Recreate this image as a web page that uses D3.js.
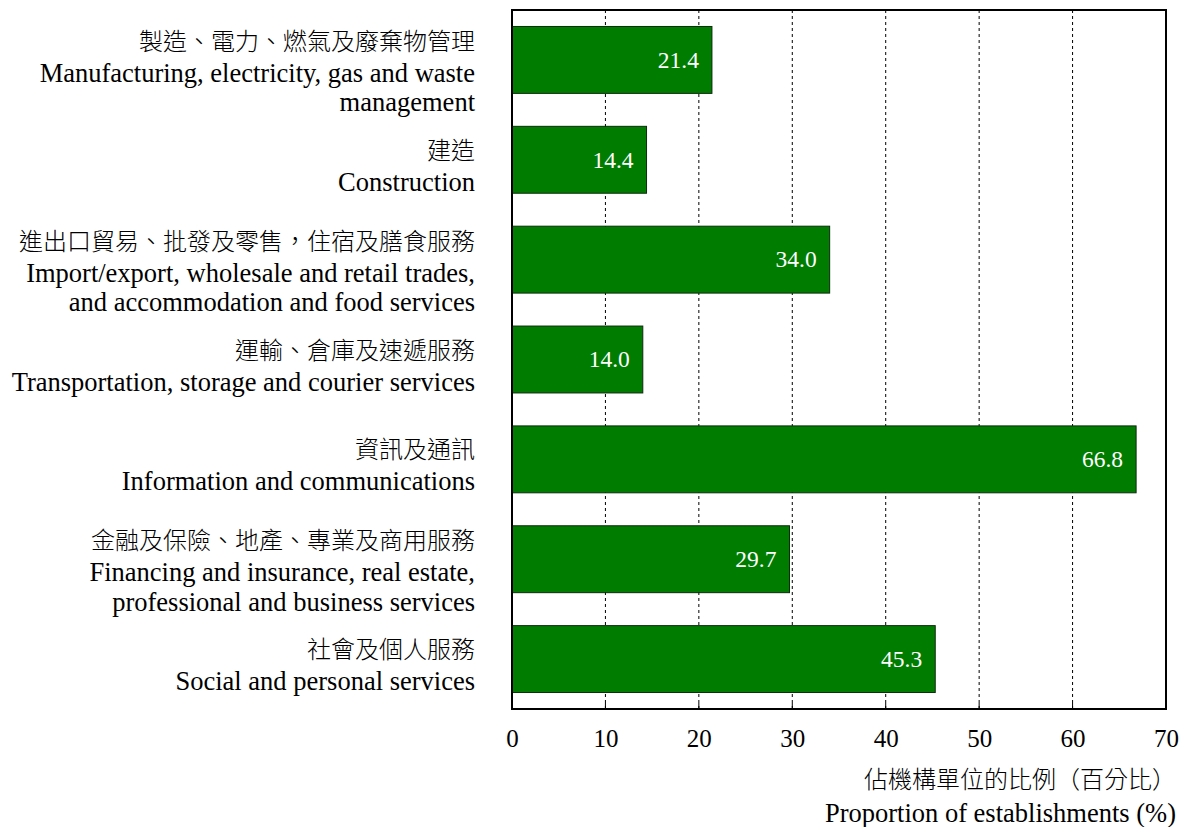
<!DOCTYPE html>
<html lang="zh-Hant">
<head>
<meta charset="utf-8">
<script src="https://d3js.org/d3.v7.min.js"></script>
<style>
  body { margin: 0; background: #fff; }
  text { font-family: "Liberation Serif", "Noto Sans CJK TC", serif; fill: #000; }
  .zh { font-family: "Noto Sans CJK TC", sans-serif; font-weight: 300; }
</style>
</head>
<body>
<div id="chart"></div>
<script>
// categories (Chinese line + English lines)
const labelsZh = [
  "製造、電力、燃氣及廢棄物管理",
  "建造",
  "進出口貿易、批發及零售，住宿及膳食服務",
  "運輸、倉庫及速遞服務",
  "資訊及通訊",
  "金融及保險、地產、專業及商用服務",
  "社會及個人服務"
];
const labelsEn = [
  ["Manufacturing, electricity, gas and waste", "management"],
  ["Construction"],
  ["Import/export, wholesale and retail trades,", "and accommodation and food services"],
  ["Transportation, storage and courier services"],
  ["Information and communications"],
  ["Financing and insurance, real estate,", "professional and business services"],
  ["Social and personal services"]
];
const values = [21.4, 14.4, 34.0, 14.0, 66.8, 29.7, 45.3];
const xTicks = [0, 10, 20, 30, 40, 50, 60, 70];
const titleZh = "佔機構單位的比例（百分比）";
const titleEn = "Proportion of establishments (%)";

const W = 1179, H = 827;
const pLeft = 512, pRight = 1166, pTop = 10, pBottom = 709;

const svg = d3.select("#chart").append("svg")
  .attr("width", W).attr("height", H);

const x = d3.scaleLinear().domain([0, 70]).range([pLeft, pRight]);
const y = d3.scaleBand().domain(d3.range(values.length))
  .range([pTop, pBottom]).paddingInner(0.33).paddingOuter(0.165);

// dashed grid
svg.append("g").selectAll("line")
  .data(xTicks.filter(d => d > 0 && d < 70))
  .join("line")
  .attr("x1", d => x(d)).attr("x2", d => x(d))
  .attr("y1", pTop).attr("y2", pBottom)
  .attr("stroke", "#000").attr("stroke-width", 1)
  .attr("stroke-dasharray", "3,3");

// bars
svg.append("g").selectAll("rect")
  .data(values)
  .join("rect")
  .attr("x", x(0))
  .attr("y", (d, i) => y(i))
  .attr("width", d => x(d) - x(0))
  .attr("height", y.bandwidth())
  .attr("fill", "#007c00")
  .attr("stroke", "#0d2a0d")
  .attr("stroke-width", 1);

// value labels
svg.append("g").selectAll("text")
  .data(values)
  .join("text")
  .attr("x", d => x(d) - 13)
  .attr("y", (d, i) => y(i) + y.bandwidth() / 2)
  .attr("dy", "0.33em")
  .attr("text-anchor", "end")
  .style("fill", "#fff")
  .style("font-size", "23.5px")
  .text(d => d.toFixed(1));

// frame
svg.append("rect")
  .attr("x", pLeft).attr("y", pTop)
  .attr("width", pRight - pLeft).attr("height", pBottom - pTop)
  .attr("fill", "none").attr("stroke", "#000").attr("stroke-width", 2);

// x axis
const xAxis = svg.append("g")
  .attr("transform", `translate(0,${pBottom})`)
  .call(d3.axisBottom(x).tickValues(xTicks).tickSize(0).tickPadding(20));
xAxis.select(".domain").remove();
xAxis.selectAll("text")
  .style("font-family", "'Liberation Serif', serif")
  .style("font-size", "25px");

// inner tick marks on bottom edge
svg.append("g").selectAll("line")
  .data(xTicks.filter(d => d > 0 && d < 70))
  .join("line")
  .attr("x1", d => x(d)).attr("x2", d => x(d))
  .attr("y1", pBottom).attr("y2", pBottom - 6)
  .attr("stroke", "#000").attr("stroke-width", 1);

// category labels
const lab = svg.append("g").selectAll("g")
  .data(values)
  .join("g")
  .attr("transform", (d, i) => {
    const n = 1 + labelsEn[i].length;
    const c = y(i) + y.bandwidth() / 2;
    return `translate(475,${n === 2 ? c - 1 : c - 10})`;
  });
lab.append("text")
  .attr("class", "zh")
  .attr("text-anchor", "end")
  .style("font-size", "24px")
  .text((d, i) => labelsZh[i]);
lab.each(function(d, i) {
  d3.select(this).selectAll("text.en")
    .data(labelsEn[i])
    .join("text")
    .attr("class", "en")
    .attr("text-anchor", "end")
    .attr("y", (t, k) => 32 + k * 29.5)
    .style("font-size", "26.5px")
    .text(t => t);
});

// axis title
svg.append("text")
  .attr("class", "zh")
  .attr("x", 1176).attr("y", 788)
  .attr("text-anchor", "end")
  .style("font-size", "24px")
  .text(titleZh);
svg.append("text")
  .attr("x", 1176).attr("y", 822)
  .attr("text-anchor", "end")
  .style("font-size", "26.5px")
  .text(titleEn);
</script>
</body>
</html>
